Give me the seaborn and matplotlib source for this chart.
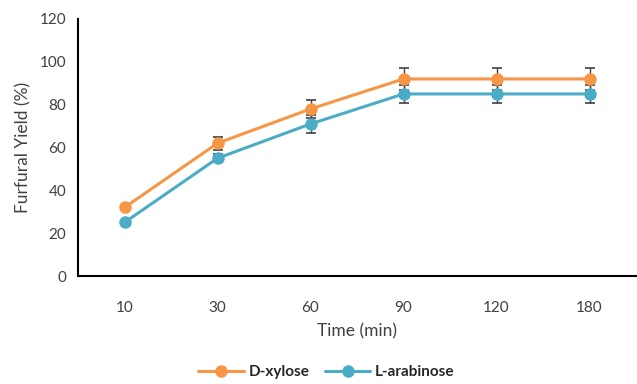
import pandas as pd
import seaborn as sns
import matplotlib.pyplot as plt
from matplotlib.ticker import FixedLocator, NullFormatter

# Datos del gráfico
tiempos = ["10", "30", "60", "90", "120", "180"]
xilosa = [32, 62, 78, 92, 92, 92]
xilosa_err = [0, 3, 4, 5, 5, 5]
arabinosa = [25, 55, 71, 85, 85, 85]
arabinosa_err = [0, 2, 4, 4, 4, 4]

naranja = "#F79646"
azul = "#4BACC6"

sns.set_style("white")
plt.rcParams["font.family"] = ["Lato", "DejaVu Sans"]

pos = list(range(len(tiempos)))
df = pd.DataFrame({
    "pos": pos * 2,
    "Yield": xilosa + arabinosa,
    "Azucar": ["D-xylose"] * len(pos) + ["L-arabinose"] * len(pos),
})

fig = plt.figure(figsize=(6.37, 3.84), dpi=100)
ax = fig.add_axes([78 / 637, 1 - 276 / 384, (636 - 78) / 637, (276 - 19) / 384])

sns.lineplot(data=df, x="pos", y="Yield", hue="Azucar",
             palette=[naranja, azul], marker="o", markersize=9,
             markeredgewidth=0, linewidth=2.2, ax=ax, zorder=3)

# barras de error solo donde hay error
for vals, errs in [(xilosa, xilosa_err), (arabinosa, arabinosa_err)]:
    idx = [i for i, e in enumerate(errs) if e > 0]
    ax.errorbar([pos[i] for i in idx], [vals[i] for i in idx],
                yerr=[errs[i] for i in idx], fmt="none", ecolor="#404040",
                elinewidth=1, capsize=3.5, capthick=1.2, zorder=2)

ax.set_xlim(-0.5, len(tiempos) - 0.5)
ax.set_ylim(0, 120)
ax.set_yticks(range(0, 121, 20))
ax.set_xticks(pos)
ax.set_xticklabels(tiempos)
ax.xaxis.set_minor_locator(FixedLocator([p - 0.5 for p in range(len(tiempos) + 1)]))
ax.xaxis.set_minor_formatter(NullFormatter())
ax.tick_params(axis="x", which="major", length=0, pad=18, labelsize=11, colors="#404040")
ax.tick_params(axis="x", which="minor", length=5, width=1.3, direction="out", color="black")
ax.tick_params(axis="y", length=5, width=1.3, direction="out", labelsize=11,
               labelcolor="#404040", color="black")

for s in ["top", "right"]:
    ax.spines[s].set_visible(False)
for s in ["left", "bottom"]:
    ax.spines[s].set_color("black")
    ax.spines[s].set_linewidth(1.5)

ax.set_xlabel("Time (min)", fontsize=12.5, color="#404040", labelpad=6)
ax.set_ylabel("Furfural Yield (%)", fontsize=12.5, color="#404040", labelpad=6)

handles, labels = ax.get_legend_handles_labels()
ax.legend(handles, labels, loc="lower center", bbox_to_anchor=(0.445, -0.455),
          ncol=2, frameon=False, prop={"weight": "bold", "size": 11},
          handlelength=3.0, columnspacing=1.0, handletextpad=0.3)

fig.savefig("out.png", dpi=100)
